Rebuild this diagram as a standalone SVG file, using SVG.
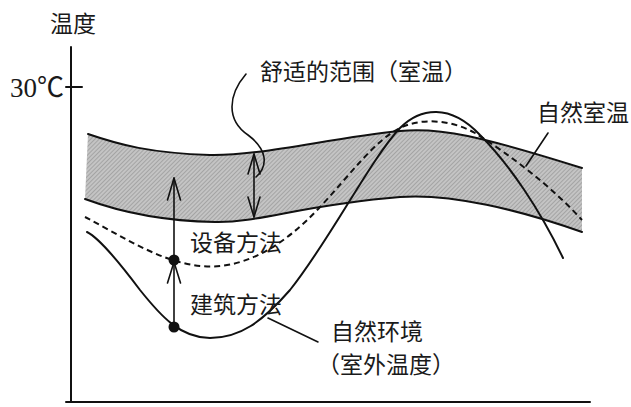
<svg xmlns="http://www.w3.org/2000/svg" width="631" height="407" viewBox="0 0 631 407">
  <style>
    .lbl { font-family: "Noto Sans CJK SC", "Noto Sans", sans-serif; font-size: 23px; fill: #1a1a1a; }
    .num { font-family: "Liberation Serif", "Noto Sans CJK SC", serif; font-size: 27px; fill: #1a1a1a; }
    .ln { fill: none; stroke: #111; stroke-width: 2; stroke-linecap: round; stroke-linejoin: round; }
    .thin { fill: none; stroke: #111; stroke-width: 1.6; stroke-linecap: round; stroke-linejoin: round; }
    .dash { fill: none; stroke: #111; stroke-width: 2; stroke-dasharray: 6 4; }
  </style>
  <defs>
    <pattern id="stipple" width="3" height="3" patternUnits="userSpaceOnUse" patternTransform="rotate(45)">
      <rect width="3" height="3" fill="#c4c4c4"/>
      <line x1="0" y1="0" x2="0" y2="3" stroke="#858585" stroke-width="1"/>
    </pattern>
  </defs>
  <rect width="631" height="407" fill="#ffffff"/>

  <g id="axes">
    <line class="ln" x1="71" y1="47" x2="71" y2="402"/>
    <line class="ln" x1="66" y1="402" x2="590" y2="402"/>
    <line class="ln" x1="66" y1="87" x2="82" y2="87"/>
    <text class="lbl" x="73" y="32" text-anchor="middle" font-size="24">温度</text>
    <text class="num" x="10" y="97">30℃</text>
  </g>

  <g id="comfort-band">
    <path d="M88,134 C120,145 150,153 210,155 C260,156 330,138 400,131 C440,127 480,136 582,168 L582,232 C520,210 450,193 400,197 C300,205 260,223 215,222 C160,221 120,212 85,199 Z" fill="url(#stipple)" stroke="none"/>
    <path class="ln" d="M88,134 C120,145 150,153 210,155 C260,156 330,138 400,131 C440,127 480,136 582,168"/>
    <path class="ln" d="M85,199 C120,212 160,221 215,222 C260,223 300,205 400,197 C450,193 520,210 582,232"/>
  </g>

  <g id="natural-room-temp">
    <path class="dash" d="M85,217 C120,235 160,262 200,266 C240,270 280,250 320,207 C350,175 375,140 400,128 C420,118 450,119 475,133 C510,155 550,185 582,220"/>
  </g>

  <g id="outdoor-temp">
    <path class="ln" d="M87,232 C95,236 110,250 140,290 C160,315 180,338 210,338 C240,338 262,322 290,290 C330,240 370,160 400,128 C420,108 450,103 480,135 C510,165 540,210 563,258"/>
  </g>

  <g id="connectors">
    <line class="thin" x1="174" y1="327" x2="174" y2="178"/>
    <polyline class="thin" points="167.5,200 174,178 180.5,200"/>
    <polyline class="thin" points="167.5,283 174,262 180.5,283"/>
    <circle cx="174" cy="260" r="5.5" fill="#111"/>
    <circle cx="174" cy="327" r="5.5" fill="#111"/>
    <line class="thin" x1="254" y1="154" x2="254" y2="217"/>
    <polyline class="thin" points="248,174 254,154 260,174"/>
    <polyline class="thin" points="248,197 254,217 260,197"/>
    <path class="thin" d="M246,74 C228,95 226,120 248,135 C268,150 268,166 256,177"/>
    <line class="thin" x1="548" y1="133" x2="526" y2="166"/>
    <line class="thin" x1="268" y1="318" x2="318" y2="342"/>
  </g>

  <g id="labels">
    <text class="lbl" x="260" y="80">舒适的范围（室温）</text>
    <text class="lbl" x="537" y="121">自然室温</text>
    <text class="lbl" x="190" y="251">设备方法</text>
    <text class="lbl" x="190" y="313">建筑方法</text>
    <text class="lbl" x="331" y="340">自然环境</text>
    <text class="lbl" x="317" y="373">（室外温度）</text>
  </g>
</svg>
